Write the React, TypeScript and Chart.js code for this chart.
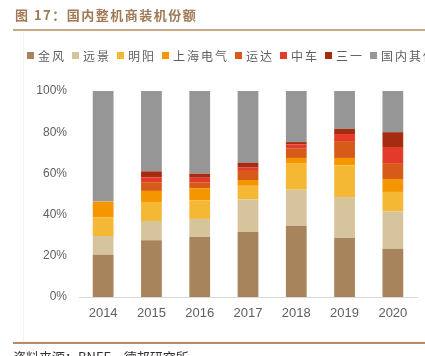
import React, { useEffect, useRef } from "react";
import { Chart, registerables } from "chart.js";

Chart.register(...registerables);

const years = ["2014", "2015", "2016", "2017", "2018", "2019", "2020"];
const goldwind = [20.5, 27.5, 29.3, 31.7, 34.6, 28.8, 23.4];
const envision = [9.1, 9.4, 8.6, 15.7, 17.5, 19.7, 18.2];
const mingyang = [9.1, 9.2, 9.0, 6.6, 12.9, 15.4, 9.4];
const shanghai = [7.6, 5.4, 5.9, 2.8, 2.5, 3.6, 6.3];
const windey = [0, 4.2, 2.9, 4.4, 4.5, 8.2, 7.7];
const crrc = [0, 2.4, 2.2, 1.6, 2.1, 3.4, 7.8];
const sany = [0, 2.9, 2.0, 2.4, 1.1, 2.5, 7.2];
const others = [53.7, 39.0, 40.1, 34.8, 24.8, 18.4, 20.0];

const seriesNames = ["金风", "远景", "明阳", "上海电气", "运达", "中车", "三一", "国内其他"];
const seriesColors = ["#a8845c", "#d6c49c", "#f5b834", "#f59600", "#d65a18", "#e43a2a", "#a52c10", "#969696"];
const seriesData = [goldwind, envision, mingyang, shanghai, windey, crrc, sany, others];
const yTicks = [0, 20, 40, 60, 80, 100];

export default function App() {
  const ref = useRef<HTMLCanvasElement>(null);
  useEffect(() => {
    if (!ref.current) return;
    const chart = new Chart(ref.current, {
      type: "bar",
      data: {
        labels: years,
        datasets: seriesNames.map((n, i) => ({
          label: n,
          data: seriesData[i],
          backgroundColor: seriesColors[i],
          borderWidth: 0,
          barPercentage: 0.43,
          categoryPercentage: 1,
        })),
      },
      options: {
        animation: false,
        responsive: false,
        maintainAspectRatio: false,
        layout: { padding: { top: 91, right: 8, left: 0, bottom: 0 } },
        plugins: { legend: { display: false }, tooltip: { enabled: false }, title: { display: false } },
        scales: {
          x: {
            stacked: true,
            grid: { display: false, drawTicks: false },
            border: { display: true, color: "#d9d9d9", width: 1 },
            ticks: { color: "#5f5f5f", font: { family: "'Liberation Sans', Arial, sans-serif", size: 13 }, padding: 9 },
            afterFit: (s: any) => { s.height = 59; },
          },
          y: {
            stacked: true,
            min: 0,
            max: 100,
            grid: { display: false, drawTicks: false },
            border: { display: false },
            afterBuildTicks: (s: any) => { s.ticks = yTicks.map((v) => ({ value: v })); },
            ticks: {
              color: "#5f5f5f",
              font: { family: "'Liberation Sans', Arial, sans-serif", size: 12 },
              padding: 12,
              callback: (v: any) => v + "%",
            },
            afterFit: (s: any) => { s.width = 79; },
          },
        },
      },
    });
    return () => chart.destroy();
  }, []);

  return (
    <div style={{ position: "fixed", left: 0, top: 0, width: 425, height: 356, overflow: "hidden", background: "#fff" }}>
      <div style={{ position: "absolute", left: 23, top: 32, width: 1, height: 310, background: "#f2f2f2" }} />
      <canvas ref={ref} width={425} height={356} style={{ position: "absolute", left: 0, top: 0, width: 425, height: 356 }} />
      <div
        style={{
          position: "absolute",
          left: 15,
          top: 6,
          fontFamily: "'Noto Sans CJK SC', sans-serif",
          fontWeight: "bold",
          fontSize: 13,
          letterSpacing: 1.5,
          color: "#a07a56",
          whiteSpace: "nowrap",
          lineHeight: "18px",
        }}
      >
        图 17：国内整机商装机份额
      </div>
      <div style={{ position: "absolute", left: 13, top: 29, width: 412, height: 2, background: "#c8a888" }} />
      <div
        style={{
          position: "absolute",
          left: 27,
          top: 47,
          display: "flex",
          alignItems: "center",
          whiteSpace: "nowrap",
          fontFamily: "'Noto Sans CJK SC', sans-serif",
          fontSize: 12,
          letterSpacing: 2,
          color: "#5f5f5f",
          lineHeight: "17px",
        }}
      >
        {seriesNames.map((n, i) => (
          <div key={n} style={{ display: "flex", alignItems: "center", marginRight: 6 }}>
            <span style={{ display: "inline-block", width: 7, height: 7, background: seriesColors[i], marginRight: 4 }} />
            <span>{n}</span>
          </div>
        ))}
      </div>
      <div style={{ position: "absolute", left: 13, top: 342, width: 412, height: 1.5, background: "#b88a66" }} />
      <div
        style={{
          position: "absolute",
          left: 13,
          top: 349,
          fontFamily: "'Noto Sans CJK SC', sans-serif",
          fontSize: 13,
          color: "#333",
          whiteSpace: "nowrap",
          lineHeight: "16px",
        }}
      >
        资料来源：BNEF，德邦研究所
      </div>
    </div>
  );
}
